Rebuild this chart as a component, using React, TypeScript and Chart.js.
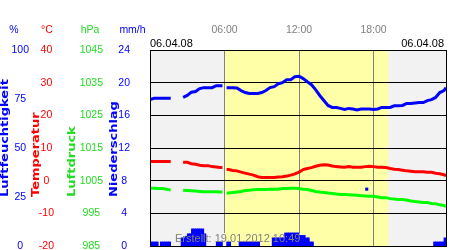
import React, { useEffect, useRef } from 'react';
import { Chart, registerables } from 'chart.js';

Chart.register(...registerables);

// ---------- data ----------
const DATE_LABEL = '06.04.08';
const CREATED_LABEL = 'Erstellt: 19.01.2012 10:49';
const X_TICK_HOURS = [6, 12, 18];
const X_MIN_HOUR = 0;
const X_MAX_HOUR = 23 + 50 / 60;
const SUNRISE = '06:00';
const SUNSET = '19:12';

const HOURS = [
  '00:00', '00:20', '00:40', '01:00', '01:20', '01:40', '02:00', '02:20', '02:40', '03:00',
  '03:20', '03:40', '04:00', '04:20', '04:40', '05:00', '05:20', '05:40', '05:50', '06:00',
  '06:10', '06:20', '06:40', '07:00', '07:20', '07:40', '08:00', '08:20', '08:40', '09:00',
  '09:20', '09:40', '10:00', '10:20', '10:40', '11:00', '11:20', '11:40', '12:00', '12:20',
  '12:40', '13:00', '13:20', '13:40', '14:00', '14:20', '14:40', '15:00', '15:20', '15:40',
  '16:00', '16:20', '16:40', '17:00', '17:20', '17:40', '18:00', '18:20', '18:40', '19:00',
  '19:20', '19:40', '20:00', '20:20', '20:40', '21:00', '21:20', '21:40', '22:00', '22:20',
  '22:40', '23:00', '23:20', '23:40', '23:50',
];

const HUMIDITY = [
  74.7, 75.4, 75.4, 75.4, 75.4, 75.4, null, null, 75.8, 76.8,
  78.5, 78.8, 80.3, 80.8, 80.8, 80.8, 81.8, 81.8, 81.8, null,
  80.8, 80.8, 80.8, 80.6, 79.3, 78.3, 77.8, 77.8, 77.8, 78.3,
  79.3, 80.8, 81.3, 82.8, 83.3, 84.8, 84.8, 86.4, 86.6, 85.4,
  83.8, 82.3, 79.8, 76.8, 74.2, 71.7, 70.7, 70.7, 70.2, 69.7,
  70.2, 69.9, 69.4, 69.9, 69.9, 69.9, 69.7, 69.9, 70.7, 70.7,
  70.7, 71.5, 71.5, 71.7, 72.7, 72.7, 73.0, 73.2, 73.2, 74.2,
  74.7, 75.8, 78.3, 79.3, 80.8,
];

const TEMPERATURE = [
  5.9, 5.9, 5.9, 5.9, 5.9, 5.9, null, null, 5.6, 5.6,
  5.2, 5.0, 4.7, 4.6, 4.6, 4.3, 4.2, 4.0, 4.0, null,
  3.4, 3.4, 3.1, 3.0, 2.6, 2.3, 2.0, 1.7, 1.2, 1.0,
  1.0, 1.0, 1.0, 1.1, 1.2, 1.4, 1.7, 2.1, 2.6, 3.4,
  3.7, 4.0, 4.4, 4.7, 4.9, 4.8, 4.5, 4.3, 4.2, 4.1,
  4.3, 4.1, 4.1, 4.1, 4.3, 4.4, 4.3, 4.1, 4.1, 4.0,
  3.7, 3.5, 3.4, 3.2, 3.0, 2.9, 2.7, 2.7, 2.7, 2.6,
  2.6, 2.3, 2.1, 1.8, 1.5,
];

const PRESSURE = [
  1002.7, 1002.7, 1002.6, 1002.6, 1002.4, 1002.1, null, null, 1002.1, 1002.0,
  1001.9, 1001.8, 1001.7, 1001.6, 1001.6, 1001.6, 1001.6, 1001.5, 1001.5, null,
  1001.2, 1001.2, 1001.4, 1001.5, 1001.7, 1002.0, 1002.1, 1002.2, 1002.3, 1002.3,
  1002.3, 1002.4, 1002.4, 1002.4, 1002.6, 1002.6, 1002.7, 1002.7, 1002.6, 1002.4,
  1002.3, 1002.0, 1001.7, 1001.5, 1001.4, 1001.2, 1001.1, 1000.9, 1000.8, 1000.8,
  1000.7, 1000.6, 1000.5, 1000.4, 1000.3, 1000.2, 1000.2, 1000.0, 999.8, 999.8,
  999.5, 999.4, 999.2, 999.2, 999.1, 998.8, 998.6, 998.5, 998.3, 998.3,
  998.0, 997.9, 997.6, 997.4, 997.1,
];

const HUMIDITY_SPIKE_TIMES = ['17:27'];
const HUMIDITY_SPIKE_VALUES = [29];

// precipitation per 10-minute interval (interval start time, mm/h)
const PRECIP_TIMES = [
  '00:00', '00:10', '00:20', '00:30',
  '00:50', '01:00', '01:10', '01:20', '01:30',
  '02:30', '02:40', '02:50', '03:00', '03:10',
  '03:20', '03:30', '03:40', '03:50', '04:00', '04:10', '04:20',
  '05:20', '05:30', '05:40',
  '06:10', '06:20',
  '07:10', '07:20', '07:30', '07:40', '07:50', '08:00', '08:10', '08:20', '08:30', '08:40',
  '09:50', '10:00', '10:10', '10:20', '10:30', '10:40',
  '10:50', '11:00', '11:10', '11:20', '11:30', '11:40', '11:50',
  '12:00', '12:10', '12:20', '12:30', '12:40', '12:50', '13:00',
  '22:50', '23:00', '23:10', '23:20', '23:30', '23:40',
];
const PRECIP_MM = [
  0.5, 0.5, 0.5, 0.5,
  0.5, 0.5, 0.5, 0.5, 0.5,
  1.0, 1.0, 1.2, 1.5, 1.5,
  2.1, 2.1, 2.1, 2.1, 2.1, 2.1, 1.5,
  0.5, 0.5, 0.5,
  0.5, 0.5,
  0.5, 0.5, 0.5, 0.5, 0.5, 0.5, 0.5, 0.5, 0.5, 0.5,
  1.0, 1.0, 1.0, 1.0, 1.0, 1.0,
  1.6, 1.6, 1.6, 1.6, 1.6, 1.6, 1.6,
  1.3, 1.3, 1.3, 1.0, 1.0, 0.5, 0.5,
  0.5, 0.5, 0.5, 0.5, 0.5, 1.0,
];

// ---------- styling ----------
const FONT = '"Liberation Sans", Arial, sans-serif';
const TITLE_FONT = 'bold 10px "DejaVu Sans", sans-serif';
const BLUE = '#0000ff';
const RED = '#ff0000';
const GREEN = '#00ff00';
const GREEN_TEXT = '#22dd22';
const GREY_TEXT = '#808080';
const BG = '#f2f2f2';
const DAY = '#ffffa8';

const toHour = (t: string) => {
  const [h, m] = t.split(':').map(Number);
  return h + m / 60;
};

const AXES = [
  { id: 'yH', width: 32, min: 0, max: 100, step: 25, color: BLUE, pad: 3, unit: '%', unitDx: 14, title: 'Luftfeuchtigkeit', titleDx: 5.5, titleColor: BLUE, weight: 4 },
  { id: 'yT', width: 26, min: -20, max: 40, step: 10, color: RED, pad: 4, unit: '°C', unitDx: 15, title: 'Temperatur', titleDx: 4, titleColor: RED, weight: 3 },
  { id: 'yP', width: 50, min: 985, max: 1045, step: 10, color: GREEN_TEXT, pad: 5, unit: 'hPa', unitDx: 32, title: 'Luftdruck', titleDx: 14, titleColor: GREEN_TEXT, weight: 2 },
  { id: 'yN', width: 42, min: 0, max: 24, step: 4, color: BLUE, pad: 20, unit: 'mm/h', unitDx: 24.5, title: 'Niederschlag', titleDx: 6, titleColor: BLUE, weight: 1 },
];

export default function App() {
  const ref = useRef<HTMLCanvasElement>(null);

  useEffect(() => {
    document.body.style.margin = '0';
    const canvas = ref.current as HTMLCanvasElement;
    const hours = HOURS.map(toHour);
    const series = (vals: (number | null)[]) => hours.map((h, i) => ({ x: h, y: vals[i] }));

    const paintBackground = (ctx: CanvasRenderingContext2D, area: any, xs: any) => {
      const h = area.bottom - area.top;
      ctx.fillStyle = BG;
      ctx.fillRect(area.left, area.top, area.right - area.left, h);
      const x0 = xs.getPixelForValue(toHour(SUNRISE));
      const x1 = xs.getPixelForValue(toHour(SUNSET));
      ctx.fillStyle = DAY;
      ctx.fillRect(x0, area.top, x1 - x0, h);
    };

    const decor = {
      id: 'decor',
      beforeDraw(chart: any) {
        const { ctx, chartArea } = chart;
        ctx.save();
        ctx.fillStyle = '#ffffff';
        ctx.fillRect(0, 0, chart.width, chart.height);
        paintBackground(ctx, chartArea, chart.scales.x);
        ctx.restore();
      },
      beforeDatasetsDraw(chart: any) {
        const { ctx, chartArea } = chart;
        ctx.save();
        ctx.font = `11px ${FONT}`;
        const w = ctx.measureText(CREATED_LABEL).width;
        ctx.beginPath();
        ctx.rect(chartArea.left + 24, chartArea.bottom - 13, w + 2, 13);
        ctx.clip();
        paintBackground(ctx, chartArea, chart.scales.x);
        ctx.restore();
      },
      afterDraw(chart: any) {
        const { ctx, chartArea: a } = chart;
        ctx.save();
        // frame
        ctx.strokeStyle = '#000000';
        ctx.lineWidth = 1;
        ctx.strokeRect(a.left + 0.5, a.top + 0.5, a.right - a.left, a.bottom - a.top);
        // created label
        ctx.font = `11px ${FONT}`;
        ctx.fillStyle = GREY_TEXT;
        ctx.textAlign = 'left';
        ctx.textBaseline = 'middle';
        ctx.fillText(CREATED_LABEL, a.left + 25, a.bottom - 7);
        // dates
        ctx.fillStyle = '#000000';
        ctx.fillText(DATE_LABEL, a.left, a.top - 6.5);
        ctx.textAlign = 'right';
        ctx.fillText(DATE_LABEL, a.right - 2, a.top - 6.5);
        // units + titles
        for (const ax of AXES) {
          const s = chart.scales[ax.id];
          ctx.font = `10.5px ${FONT}`;
          ctx.textAlign = 'center';
          ctx.fillStyle = ax.color;
          ctx.fillText(ax.unit, s.left + ax.unitDx, 30.5);
          ctx.save();
          ctx.translate(s.left + ax.titleDx, 197);
          ctx.rotate(-Math.PI / 2);
          ctx.scale(1.3, 1);
          ctx.font = TITLE_FONT;
          ctx.textAlign = 'left';
          ctx.fillStyle = ax.titleColor;
          ctx.fillText(ax.title, 0, 0);
          ctx.restore();
        }
        ctx.restore();
      },
    };

    const yScales: any = {};
    for (const ax of AXES) {
      yScales[ax.id] = {
        type: 'linear',
        position: 'left',
        weight: ax.weight,
        min: ax.min,
        max: ax.max,
        offset: false,
        afterFit: (s: any) => {
          s.width = ax.width;
          s.paddingTop = 0;
          s.paddingBottom = 0;
        },
        ticks: {
          stepSize: ax.step,
          autoSkip: false,
          color: ax.color,
          padding: ax.pad,
          crossAlign: 'center',
          font: { family: FONT, size: 10.5 },
          callback: (v: any) => String(v),
        },
        grid: { display: ax.id === 'yP', color: '#000000', lineWidth: 1, drawTicks: false },
        border: { display: false },
      };
    }

    const chart = new Chart(canvas, {
      type: 'line',
      data: {
        datasets: [
          {
            type: 'bar',
            label: 'Niederschlag',
            yAxisID: 'yN',
            data: PRECIP_TIMES.map((t, i) => ({ x: toHour(t) + 5 / 60, y: PRECIP_MM[i] })),
            backgroundColor: BLUE,
            borderWidth: 0,
            barPercentage: 1,
            categoryPercentage: 1,
          } as any,
          {
            label: 'Luftfeuchtigkeit',
            yAxisID: 'yH',
            data: series(HUMIDITY),
            borderColor: BLUE,
            borderWidth: 3,
            pointRadius: 0,
            spanGaps: false,
          },
          {
            label: 'Luftfeuchtigkeit Einzelwert',
            yAxisID: 'yH',
            data: HUMIDITY_SPIKE_TIMES.map((t, i) => ({ x: toHour(t), y: HUMIDITY_SPIKE_VALUES[i] })),
            showLine: false,
            pointStyle: 'rect',
            pointRadius: 2.2,
            pointBorderWidth: 0,
            pointBackgroundColor: BLUE,
            borderColor: BLUE,
          },
          {
            label: 'Temperatur',
            yAxisID: 'yT',
            data: series(TEMPERATURE),
            borderColor: RED,
            borderWidth: 3,
            pointRadius: 0,
            spanGaps: false,
          },
          {
            label: 'Luftdruck',
            yAxisID: 'yP',
            data: series(PRESSURE),
            borderColor: GREEN,
            borderWidth: 3,
            pointRadius: 0,
            spanGaps: false,
          },
        ],
      },
      options: {
        responsive: false,
        animation: false,
        devicePixelRatio: 1,
        layout: { padding: { top: 0, left: 0, right: 1, bottom: 2 } },
        plugins: { legend: { display: false }, tooltip: { enabled: false } },
        elements: { line: { tension: 0 } },
        scales: {
          x: {
            type: 'linear',
            position: 'top',
            min: X_MIN_HOUR,
            max: X_MAX_HOUR,
            offset: false,
            afterBuildTicks: (s: any) => {
              s.ticks = X_TICK_HOURS.map((v) => ({ value: v }));
            },
            afterFit: (s: any) => {
              s.height = 50;
              s.paddingLeft = 0;
              s.paddingRight = 0;
            },
            ticks: {
              autoSkip: false,
              maxRotation: 0,
              color: GREY_TEXT,
              padding: 13.7,
              font: { family: FONT, size: 10.5 },
              callback: (v: any) => `${String(v).padStart(2, '0')}:00`,
            },
            grid: { color: '#808080', lineWidth: 1, drawTicks: false, offset: false },
            border: { display: false },
          },
          ...yScales,
        },
      } as any,
      plugins: [decor],
    });

    return () => chart.destroy();
  }, []);

  return (
    <div style={{ position: 'absolute', left: 0, top: 0, width: 450, height: 250 }}>
      <canvas ref={ref} width={450} height={250} style={{ display: 'block' }} />
    </div>
  );
}
